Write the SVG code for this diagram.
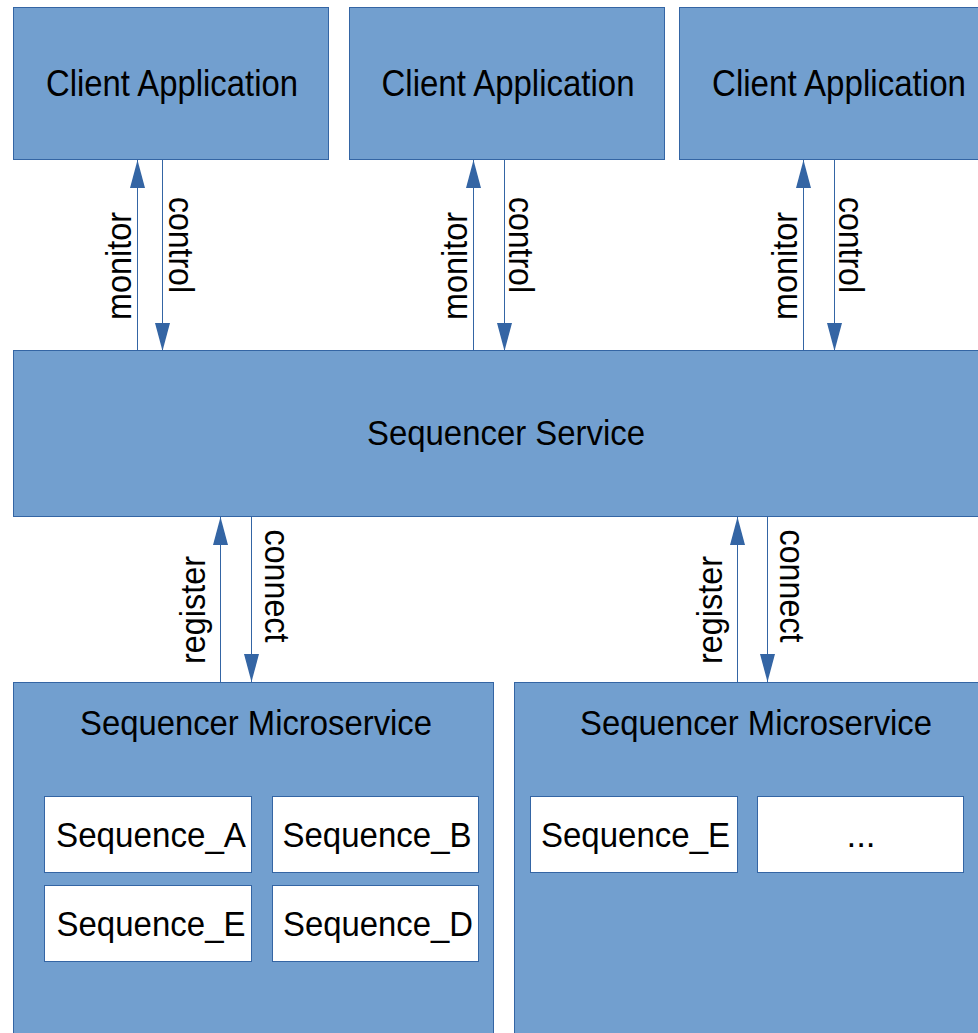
<svg xmlns="http://www.w3.org/2000/svg" width="978" height="1033" viewBox="0 0 978 1033">
<style>
.box{fill:#729fcf;stroke:#3465a4;stroke-width:1}
.seq{fill:#ffffff;stroke:#3465a4;stroke-width:1}
.t{font-family:"Liberation Sans",Arial,sans-serif;fill:#000000;text-anchor:middle}
.big{font-size:37px}
.mid{font-size:35px}
.ln{stroke:#3465a4;stroke-width:1;fill:none}
</style>
<defs>
<marker id="ah" viewBox="0 0 28 15" refX="28" refY="7.5" markerWidth="28" markerHeight="15" markerUnits="userSpaceOnUse" orient="auto">
<path d="M0,0 L28,7.5 L0,15 z" fill="#3465a4"/>
</marker>
</defs>
<rect width="978" height="1033" fill="#ffffff"/>
<g id="client1"><rect class="box" x="13.5" y="7.5" width="315" height="152"/><text class="t big" x="172" y="96" textLength="252" lengthAdjust="spacingAndGlyphs">Client Application</text></g>
<g id="client2"><rect class="box" x="349.5" y="7.5" width="315" height="152"/><text class="t big" x="508" y="96" textLength="253" lengthAdjust="spacingAndGlyphs">Client Application</text></g>
<g id="client3"><rect class="box" x="679.5" y="7.5" width="315" height="152"/><text class="t big" x="839" y="96" textLength="254" lengthAdjust="spacingAndGlyphs">Client Application</text></g>
<g id="sequencer-service"><rect class="box" x="13.5" y="350.5" width="985" height="166"/><text class="t mid" x="506" y="445" textLength="278" lengthAdjust="spacingAndGlyphs">Sequencer Service</text></g>
<g id="microservice1"><rect class="box" x="13.5" y="682.5" width="480" height="360"/><text class="t mid" x="256" y="735" textLength="352" lengthAdjust="spacingAndGlyphs">Sequencer Microservice</text>
<g id="seqA"><rect class="seq" x="44.5" y="796.5" width="207" height="76"/><text class="t mid" x="151" y="847" textLength="190" lengthAdjust="spacingAndGlyphs">Sequence_A</text></g>
<g id="seqB"><rect class="seq" x="272.5" y="796.5" width="206" height="76"/><text class="t mid" x="377" y="847" textLength="189" lengthAdjust="spacingAndGlyphs">Sequence_B</text></g>
<g id="seqE1"><rect class="seq" x="44.5" y="885.5" width="207" height="76"/><text class="t mid" x="151" y="936" textLength="189" lengthAdjust="spacingAndGlyphs">Sequence_E</text></g>
<g id="seqD"><rect class="seq" x="272.5" y="885.5" width="206" height="76"/><text class="t mid" x="378" y="936" textLength="190" lengthAdjust="spacingAndGlyphs">Sequence_D</text></g>
</g>
<g id="microservice2"><rect class="box" x="514.5" y="682.5" width="480" height="360"/><text class="t mid" x="756" y="735" textLength="352" lengthAdjust="spacingAndGlyphs">Sequencer Microservice</text>
<g id="seqE2"><rect class="seq" x="530.5" y="796.5" width="207" height="76"/><text class="t mid" x="635.5" y="847" textLength="189" lengthAdjust="spacingAndGlyphs">Sequence_E</text></g>
<g id="more"><rect class="seq" x="757.5" y="796.5" width="206" height="76"/><text class="t mid" x="861" y="847">...</text></g>
</g>
<g id="connectors">
<line class="ln" x1="137.5" y1="351" x2="137.5" y2="160" marker-end="url(#ah)"/>
<line class="ln" x1="162.5" y1="160" x2="162.5" y2="351" marker-end="url(#ah)"/>
<line class="ln" x1="473.5" y1="351" x2="473.5" y2="160" marker-end="url(#ah)"/>
<line class="ln" x1="504.5" y1="160" x2="504.5" y2="351" marker-end="url(#ah)"/>
<line class="ln" x1="803.5" y1="351" x2="803.5" y2="160" marker-end="url(#ah)"/>
<line class="ln" x1="834.5" y1="160" x2="834.5" y2="351" marker-end="url(#ah)"/>
<line class="ln" x1="220.5" y1="682" x2="220.5" y2="517" marker-end="url(#ah)"/>
<line class="ln" x1="251.5" y1="517" x2="251.5" y2="682" marker-end="url(#ah)"/>
<line class="ln" x1="737.5" y1="682" x2="737.5" y2="517" marker-end="url(#ah)"/>
<line class="ln" x1="767.5" y1="517" x2="767.5" y2="682" marker-end="url(#ah)"/>
<text class="t mid" transform="translate(130.5,266) rotate(-90)" textLength="108" lengthAdjust="spacingAndGlyphs">monitor</text>
<text class="t mid" transform="translate(169,245) rotate(90)" textLength="96" lengthAdjust="spacingAndGlyphs">control</text>
<text class="t mid" transform="translate(466.5,266) rotate(-90)" textLength="108" lengthAdjust="spacingAndGlyphs">monitor</text>
<text class="t mid" transform="translate(509,245) rotate(90)" textLength="96" lengthAdjust="spacingAndGlyphs">control</text>
<text class="t mid" transform="translate(796.5,266) rotate(-90)" textLength="108" lengthAdjust="spacingAndGlyphs">monitor</text>
<text class="t mid" transform="translate(839,245) rotate(90)" textLength="96" lengthAdjust="spacingAndGlyphs">control</text>
<text class="t mid" transform="translate(205,610) rotate(-90)" textLength="108" lengthAdjust="spacingAndGlyphs">register</text>
<text class="t mid" transform="translate(265,586) rotate(90)" textLength="113" lengthAdjust="spacingAndGlyphs">connect</text>
<text class="t mid" transform="translate(722,610) rotate(-90)" textLength="108" lengthAdjust="spacingAndGlyphs">register</text>
<text class="t mid" transform="translate(780,586) rotate(90)" textLength="113" lengthAdjust="spacingAndGlyphs">connect</text>
</g>
</svg>
